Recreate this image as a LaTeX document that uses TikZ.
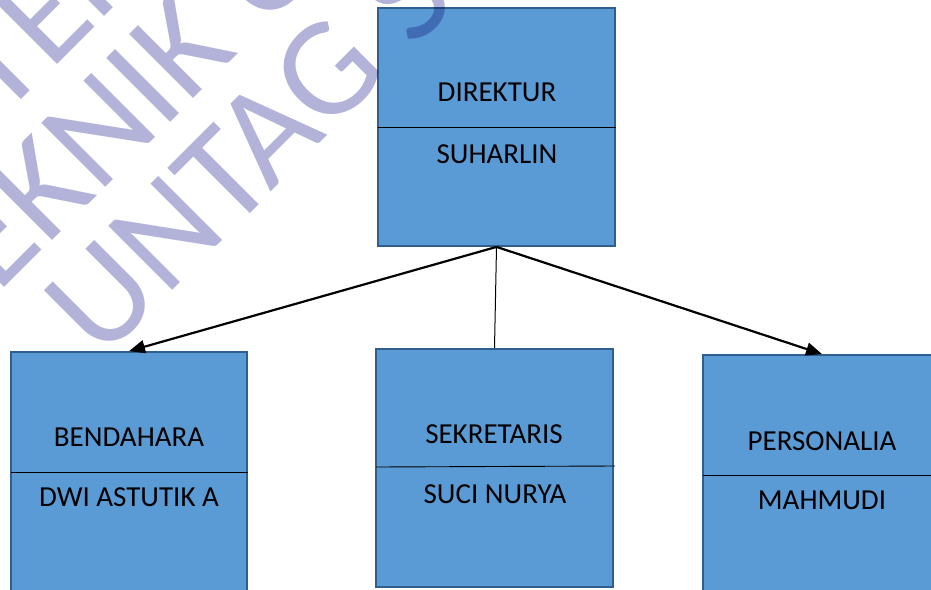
\documentclass[tikz,border=0pt]{standalone}
\usepackage{fontspec}
\setmainfont{Carlito}
\usepackage{tikz}
\usetikzlibrary{arrows.meta,positioning}
\usepackage{xcolor}
\definecolor{boxfill}{HTML}{5B9BD5}
\definecolor{boxline}{HTML}{2F5F8F}
\definecolor{wmark}{HTML}{B3B3D9}

\tikzset{
   orgbox/.style={draw=boxline, fill=boxfill, line width=1.8pt, minimum width=237pt, minimum height=238pt, inner sep=0pt},
   lbl/.style={font=\fontsize{29}{33}\selectfont, inner sep=0pt},
   arr/.style={-{Triangle[length=16pt,width=13pt]}, line width=2.2pt},
   wmtext/.style={anchor=base west, rotate=45, text=wmark, inner sep=0pt, font=\fontsize{141}{145}\selectfont},
}

\begin{document}
\begin{tikzpicture}[x=1pt,y=-1pt]
   % frame
   \useasboundingbox (0,0) rectangle (931,589);

   % boxes
   \node[orgbox] (dir) at (496.5,127) {};
   \node[orgbox, minimum width=236pt, minimum height=260pt] (ben) at (129,482) {};
   \node[orgbox] (sek) at (494.5,468) {};
   \node[orgbox, minimum width=238pt, minimum height=260pt] (per) at (822,485) {};

   % dividers
   \coordinate (dirS) at (378,127);
   \coordinate (benS) at (11,472);
   \coordinate (sekS) at (376,467);
   \coordinate (sekE) at (615,466);
   \coordinate (perS) at (703,475);
   \draw[line width=0.9pt] (dirS) -- (dir.east |- dirS);
   \draw[line width=0.9pt] (benS) -- (ben.east |- benS);
   \draw[line width=0.9pt] (sekS) -- (sekE);
   \draw[line width=0.9pt] (perS) -- (per.east |- perS);

   % labels
   \node[lbl] (dirT) at (497,92) {DIREKTUR};
   \node[lbl] (dirN) at (497,154) {SUHARLIN};
   \node[lbl] (benT) at (129,437) {BENDAHARA};
   \node[lbl] (benN) at (129,497.5) {DWI ASTUTIK A};
   \node[lbl] (sekT) at (494,434) {SEKRETARIS};
   \node[lbl] (sekN) at (495,494.5) {SUCI NURYA};
   \node[lbl] (perT) at (822,441) {PERSONALIA};
   \node[lbl] (perN) at (822,500) {MAHMUDI};

   % connectors
   \draw[arr] (dir.south) -- (ben.north);
   \draw[arr] (dir.south) -- (per.north);
   \draw[line width=1pt] (dir.south) -- (sek.north);

   % watermark
   \begin{scope}[blend mode=multiply]
      \clip (0,0) rectangle (931,589);
      \foreach \px/\py/\wtxt [count=\i] in {1.4/120/TEKNIK UNTAG, -51/343.6/TEKNIK UNTAG, 101.5/361.7/UNTAG SURABAYA}
         \node[wmtext] (wm\i) at (\px,\py) {\wtxt};
   \end{scope}
\end{tikzpicture}
\end{document}
